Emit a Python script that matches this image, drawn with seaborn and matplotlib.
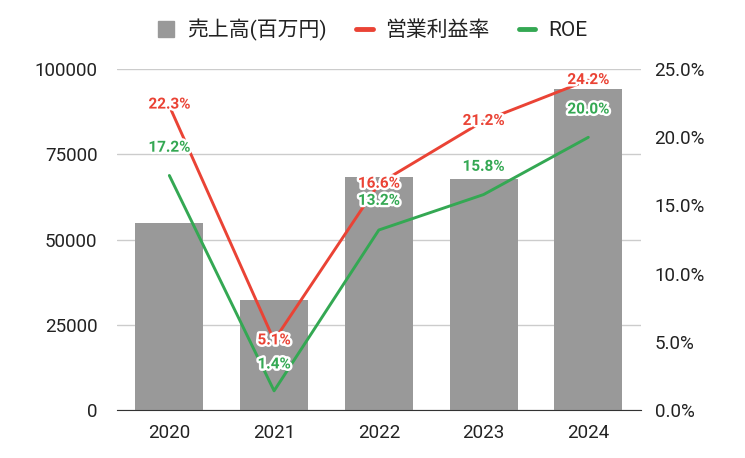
import numpy as np
import pandas as pd
import matplotlib
matplotlib.use("Agg")
import matplotlib.pyplot as plt
import matplotlib.patheffects as pe
from matplotlib.lines import Line2D
import seaborn as sns

# data
years = ["2020", "2021", "2022", "2023", "2024"]
sales = [54800, 32300, 68300, 67700, 94100]          # 売上高(百万円)
op_margin = [22.3, 5.1, 16.6, 21.2, 24.2]            # 営業利益率 (%)
roe = [17.2, 1.4, 13.2, 15.8, 20.0]                  # ROE (%)

# label offsets (points, upward)
op_offsets = [1, 0, 0, 0, 0]
roe_offsets = [20, 19, 21, 20, 20]

sns.set_style("white")
plt.rcParams["font.family"] = ["Roboto", "Noto Sans CJK JP", "DejaVu Sans"]

bar_color = "#999999"
red = "#EA4335"
green = "#34A853"
text_color = "#222222"

df = pd.DataFrame({"year": years, "sales": sales})

fig = plt.figure(figsize=(7.45, 4.58), dpi=100)
ax = fig.add_axes([0.157, 0.105, 0.703, 0.744])

sns.barplot(data=df, x="year", y="sales", color=bar_color, width=0.65,
            saturation=1, ax=ax)
for p in ax.patches:
    p.set_edgecolor("none")

ax.set_ylim(0, 100000)
ax.set_yticks([0, 25000, 50000, 75000, 100000])
ax.set_xlim(-0.5, 4.5)
ax.set_xlabel("")
ax.set_ylabel("")
ax.grid(axis="y", color="#cccccc", linewidth=1)
ax.set_axisbelow(True)
for s in ["top", "right", "left"]:
    ax.spines[s].set_visible(False)
ax.spines["bottom"].set_color("#333333")
ax.tick_params(axis="y", length=0, labelsize=13.5, colors=text_color, pad=14)
ax.tick_params(axis="x", length=0, labelsize=13.5, colors=text_color, pad=10)

ax2 = ax.twinx()
xpos = np.arange(len(years))
sns.lineplot(x=xpos, y=op_margin, color=red, linewidth=2.1, ax=ax2)
sns.lineplot(x=xpos, y=roe, color=green, linewidth=2.1, ax=ax2)
ax2.set_ylim(0, 25)
ax2.set_yticks([0, 5, 10, 15, 20, 25])
ax2.set_yticklabels([f"{v:.1f}%" for v in [0, 5, 10, 15, 20, 25]])
ax2.set_xlim(-0.5, 4.5)
for s in ax2.spines.values():
    s.set_visible(False)
ax2.tick_params(axis="y", length=0, labelsize=13.5, colors=text_color, pad=10)

stroke = [pe.withStroke(linewidth=3.5, foreground="white")]
for i, v in enumerate(op_margin):
    ax2.annotate(f"{v:.1f}%", (i, v), xytext=(0, op_offsets[i]),
                 textcoords="offset points", ha="center", va="center",
                 color=red, fontsize=11, fontweight="bold", path_effects=stroke)
for i, v in enumerate(roe):
    ax2.annotate(f"{v:.1f}%", (i, v), xytext=(0, roe_offsets[i]),
                 textcoords="offset points", ha="center", va="center",
                 color=green, fontsize=11, fontweight="bold", path_effects=stroke)

handles = [
    Line2D([], [], marker="s", linestyle="none", markersize=11,
           markerfacecolor=bar_color, markeredgecolor=bar_color),
    Line2D([], [], color=red, linewidth=3.5),
    Line2D([], [], color=green, linewidth=3.5),
]
fig.legend(handles, ["売上高(百万円)", "営業利益率", "ROE"], loc="upper center",
           bbox_to_anchor=(0.5, 1.0), ncol=3, frameon=False, fontsize=15,
           handlelength=0.8, columnspacing=1.4, handletextpad=0.6,
           labelcolor=text_color)

fig.savefig("out.png", dpi=100)
